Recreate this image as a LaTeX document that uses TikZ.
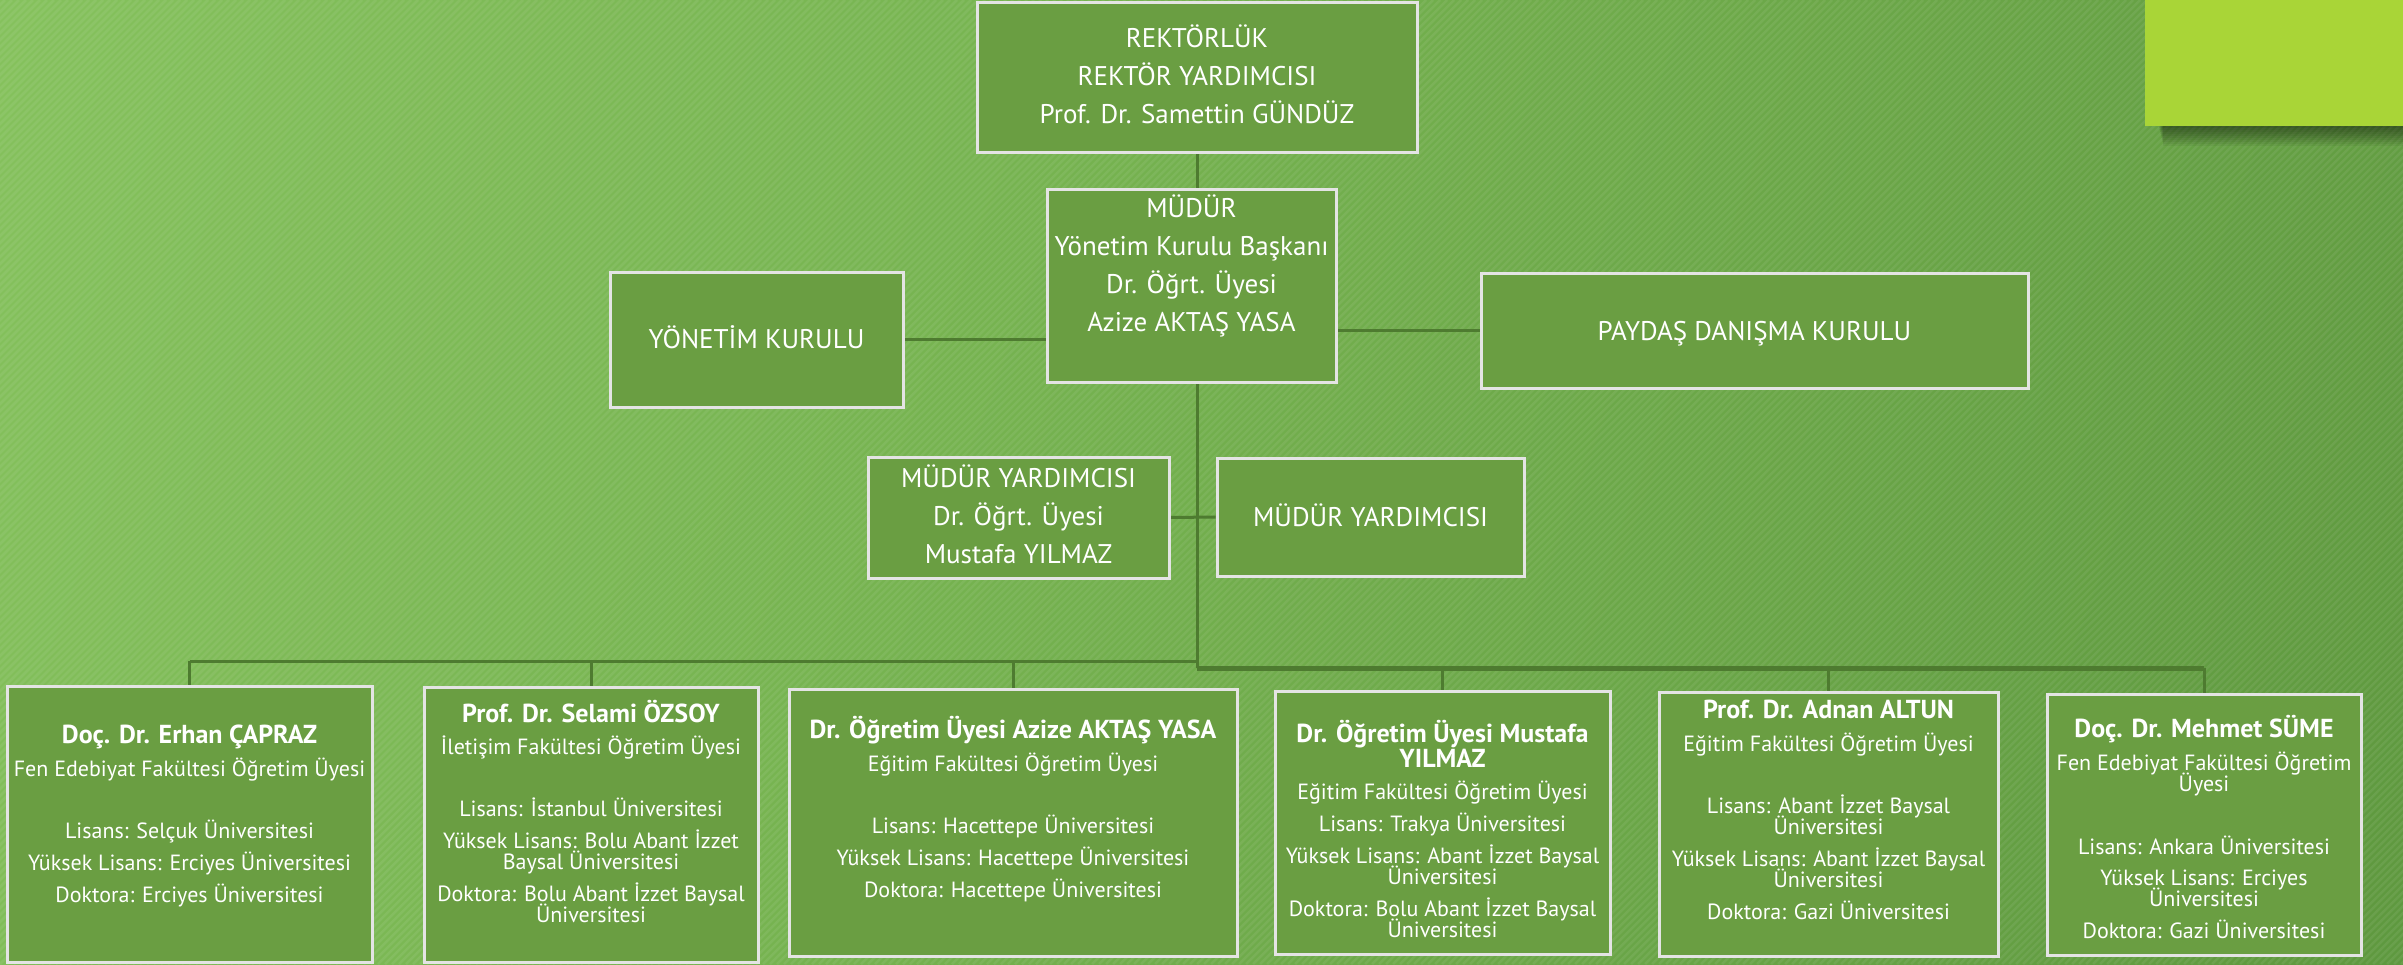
\documentclass[tikz,border=0pt]{standalone}
\usepackage{fontspec}
\setmainfont{PT Sans}
\usetikzlibrary{calc}
\definecolor{boxfill}{HTML}{6A9E42}
\definecolor{boxline}{HTML}{E4E4E4}
\definecolor{conn}{HTML}{4E7B30}
\definecolor{limec}{HTML}{A9D537}
\definecolor{bgA}{HTML}{98D36D}
\definecolor{bgB}{HTML}{76B350}
\definecolor{bgC}{HTML}{4A8230}
\pgfdeclarehorizontalshading{bgshade}{100bp}{color(0bp)=(bgA); color(45bp)=(bgB); color(100bp)=(bgC)}
\pgfdeclarelayer{back}
\pgfdeclarelayer{mid}
\pgfsetlayers{back,mid,main}
\newcommand\tightlines{\lineskiplimit-100pt\lineskip0pt\relax}
\newcommand\topfont{\fontsize{27}{38}\selectfont\tightlines}
\newcommand\botfont{\fontsize{22}{21}\selectfont\tightlines}
\newcommand\ttl[1]{{\fontsize{26}{21}\selectfont\bfseries #1}}
\begin{document}
\begin{tikzpicture}[x=1pt,y=-1pt,
  box/.style={draw=boxline, line width=3pt, fill=boxfill, inner sep=0pt},
  toptext/.style={text=white, font=\topfont, align=center, inner sep=0pt},
  bottext/.style={text=white, font=\botfont, align=center, inner sep=0pt},
  link/.style={draw=conn, line width=3pt},
  buslink/.style={draw=conn, line width=5pt}]

\useasboundingbox (0,0) rectangle (2403,964);

\begin{pgfonlayer}{back}
  \begin{scope}
    \clip (0,0) rectangle (2403,964);
    \shade[shading=bgshade, shading angle=-20] (-98.5,-818) rectangle (2501.5,1782);
    \foreach \i in {-980,-973,...,2403}
      \draw[white, opacity=0.07, line width=2.5pt] (\i,964) -- (\i+964,0);
    \foreach \k in {1,...,10}
      \fill[black, opacity=0.05] (2158+\k*0.5,126) rectangle (2403,126+\k*2);
    \fill[limec] (2145,0) rectangle (2403,126);
  \end{scope}
\end{pgfonlayer}

% top boxes
\node[box, minimum width=440pt, minimum height=150pt] (rek) at (1197,77) {};
\node[toptext, anchor=north] (rekT) at (1197,17) {\rule{0pt}{30pt}REKTÖRLÜK\\REKTÖR YARDIMCISI\\Prof. Dr. Samettin GÜNDÜZ};

\node[box, minimum width=289pt, minimum height=193pt] (mud) at (1191.5,285.5) {};
\node[toptext, anchor=north] (mudT) at (1191.5,187) {\rule{0pt}{30pt}MÜDÜR\\Yönetim Kurulu Başkanı\\Dr. Öğrt. Üyesi\\Azize AKTAŞ YASA};

\node[box, minimum width=293pt, minimum height=135pt] (yk) at (756.5,339.5) {};
\node[toptext, anchor=base] (ykT) at (756.5,348) {YÖNETİM KURULU};

\node[box, minimum width=547pt, minimum height=115pt] (pay) at (1754.5,330.5) {};
\node[toptext, anchor=base] (payT) at (1754.5,340) {PAYDAŞ DANIŞMA KURULU};

\node[box, minimum width=301pt, minimum height=121pt] (my1) at (1018.5,517.5) {};
\node[toptext, anchor=north] (my1T) at (1018.5,457) {\rule{0pt}{30pt}MÜDÜR YARDIMCISI\\Dr. Öğrt. Üyesi\\Mustafa YILMAZ};

\node[box, minimum width=307pt, minimum height=118pt] (my2) at (1370.5,517) {};
\node[toptext, anchor=base] (my2T) at (1370.5,526) {MÜDÜR YARDIMCISI};

% bottom boxes
\node[box, minimum width=365pt, minimum height=276pt] (b1) at (189.5,824) {};
\node[bottext, anchor=north] (b1T) at (189.5,715) {\rule{0pt}{28pt}\ttl{Doç. Dr. Erhan ÇAPRAZ}\\[12pt]
Fen Edebiyat Fakültesi Öğretim Üyesi\\[41pt]
Lisans: Selçuk Üniversitesi\\[11pt]
Yüksek Lisans: Erciyes Üniversitesi\\[11pt]
Doktora: Erciyes Üniversitesi};

\node[box, minimum width=334pt, minimum height=275pt] (b2) at (591,824.5) {};
\node[bottext, anchor=north] (b2T) at (591,694) {\rule{0pt}{28pt}\ttl{Prof. Dr. Selami ÖZSOY}\\[11pt]
İletişim Fakültesi Öğretim Üyesi\\[41pt]
Lisans: İstanbul Üniversitesi\\[11pt]
Yüksek Lisans: Bolu Abant İzzet\\
Baysal Üniversitesi\\[11pt]
Doktora: Bolu Abant İzzet Baysal\\
Üniversitesi};

\node[box, minimum width=448pt, minimum height=267pt] (b3) at (1013,822.5) {};
\node[bottext, anchor=north] (b3T) at (1013,710) {\rule{0pt}{28pt}\ttl{Dr. Öğretim Üyesi Azize AKTAŞ YASA}\\[12pt]
Eğitim Fakültesi Öğretim Üyesi\\[41pt]
Lisans: Hacettepe Üniversitesi\\[11pt]
Yüksek Lisans: Hacettepe Üniversitesi\\[11pt]
Doktora: Hacettepe Üniversitesi};

\node[box, minimum width=335pt, minimum height=263pt] (b4) at (1442.5,822.5) {};
\node[bottext, anchor=north] (b4T) at (1442.5,714) {\rule{0pt}{28pt}\ttl{Dr. Öğretim Üyesi Mustafa}\\[4pt]
\ttl{YILMAZ}\\[11pt]
Eğitim Fakültesi Öğretim Üyesi\\[11pt]
Lisans: Trakya Üniversitesi\\[11pt]
Yüksek Lisans: Abant İzzet Baysal\\
Üniversitesi\\[11pt]
Doktora: Bolu Abant İzzet Baysal\\
Üniversitesi};

\node[box, minimum width=339pt, minimum height=264pt] (b5) at (1828.5,824) {};
\node[bottext, anchor=north] (b5T) at (1828.5,690) {\rule{0pt}{28pt}\ttl{Prof. Dr. Adnan ALTUN}\\[12pt]
Eğitim Fakültesi Öğretim Üyesi\\[41pt]
Lisans: Abant İzzet Baysal\\
Üniversitesi\\[11pt]
Yüksek Lisans: Abant İzzet Baysal\\
Üniversitesi\\[11pt]
Doktora: Gazi Üniversitesi};

\node[box, minimum width=314pt, minimum height=261pt] (b6) at (2204,824.5) {};
\node[bottext, anchor=north] (b6T) at (2204,709) {\rule{0pt}{28pt}\ttl{Doç. Dr. Mehmet SÜME}\\[12pt]
Fen Edebiyat Fakültesi Öğretim\\
Üyesi\\[42pt]
Lisans: Ankara Üniversitesi\\[10pt]
Yüksek Lisans: Erciyes\\
Üniversitesi\\[11pt]
Doktora: Gazi Üniversitesi};

% connectors
\coordinate (busL) at (1197,661);
\coordinate (busR) at (1197,668);
\begin{pgfonlayer}{mid}
  \draw[link] (rek.south) -- (rek.south |- mud.north);
  \draw[link] (rek.south |- mud.south) -- (busR);
  \draw[link] (yk.east) -- (yk.east -| mud.west);
  \draw[link] (pay.west) -- (pay.west -| mud.east);
  \draw[link] (my1.east) -- (my2.west);
  \draw[link] (b1.north |- busL) -- (busL);
  \draw[buslink] (busR) -- (busR -| b6.north);
  \draw[link] (b1.north |- busL) -- (b1.north);
  \draw[link] (b2.north |- busL) -- (b2.north);
  \draw[link] (b3.north |- busL) -- (b3.north);
  \draw[link] (b4.north |- busR) -- (b4.north);
  \draw[link] (b5.north |- busR) -- (b5.north);
  \draw[link] (b6.north |- busR) -- (b6.north);
\end{pgfonlayer}
\end{tikzpicture}
\end{document}
